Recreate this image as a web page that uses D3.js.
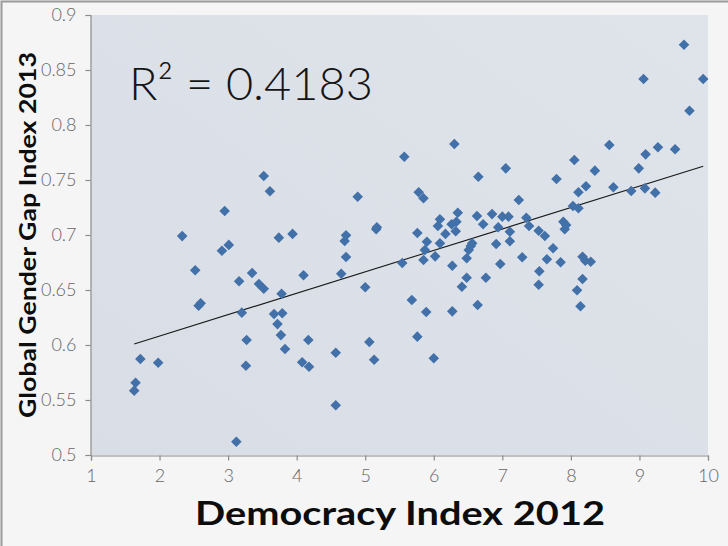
<!DOCTYPE html>
<html>
<head>
<meta charset="utf-8">
<script src="https://cdnjs.cloudflare.com/ajax/libs/d3/7.8.5/d3.min.js"></script>
<style>
	body { margin:0; background:#f5f5f5; }
	svg { display:block; }
</style>
</head>
<body>
<svg id="chart"></svg>
<script>

// democracy index 2012 (x) and global gender gap index 2013 (y), one entry per country
var democracyIndex = [
	1.63, 1.65, 1.72, 1.98, 2.33, 2.52, 2.57, 2.60, 2.91, 2.95,
	3.01, 3.12, 3.16, 3.20, 3.26, 3.27, 3.35, 3.45, 3.52, 3.52,
	3.61, 3.67, 3.72, 3.74, 3.77, 3.78, 3.79, 3.83, 3.94, 4.08,
	4.10, 4.17, 4.18, 4.57, 4.57, 4.65, 4.70, 4.72, 4.72, 4.89,
	5.00, 5.06, 5.13, 5.16, 5.17, 5.54, 5.57, 5.68, 5.76, 5.76,
	5.78, 5.85, 5.85, 5.87, 5.89, 5.90, 6.00, 6.02, 6.06, 6.09,
	6.09, 6.17, 6.26, 6.27, 6.27, 6.30, 6.32, 6.33, 6.35, 6.41,
	6.48, 6.48, 6.51, 6.54, 6.56, 6.63, 6.64, 6.65, 6.72, 6.76,
	6.85, 6.91, 6.94, 6.97, 7.00, 7.05, 7.09, 7.11, 7.11, 7.24,
	7.29, 7.35, 7.39, 7.53, 7.53, 7.54, 7.62, 7.65, 7.74, 7.79,
	7.85, 7.89, 7.91, 7.93, 8.03, 8.05, 8.09, 8.11, 8.11, 8.14,
	8.17, 8.17, 8.21, 8.22, 8.29, 8.35, 8.56, 8.62, 8.88, 8.99,
	9.06, 9.08, 9.09, 9.23, 9.27, 9.52, 9.65, 9.73, 9.93
];

var genderGap = [
	0.5585, 0.5657, 0.5873, 0.5839, 0.6990, 0.6680, 0.6357, 0.6380, 0.6857, 0.7218,
	0.6910, 0.5120, 0.6580, 0.6294, 0.5812, 0.6045, 0.6655, 0.6555, 0.6512, 0.7536,
	0.7397, 0.6282, 0.6190, 0.6976, 0.6090, 0.6466, 0.6288, 0.5964, 0.7010, 0.5843,
	0.6634, 0.6045, 0.5803, 0.5930, 0.5452, 0.6648, 0.6946, 0.6997, 0.6800, 0.7348,
	0.6525, 0.6027, 0.5866, 0.7052, 0.7070, 0.6745, 0.7712, 0.6409, 0.7018, 0.6076,
	0.7388, 0.7334, 0.6773, 0.6864, 0.6300, 0.6939, 0.5879, 0.6806, 0.7082, 0.7143,
	0.6924, 0.7010, 0.7097, 0.6721, 0.6306, 0.7827, 0.7034, 0.7121, 0.7203, 0.6530,
	0.6788, 0.6612, 0.6864, 0.6900, 0.6924, 0.7173, 0.6364, 0.7530, 0.7097, 0.6612,
	0.7190, 0.6918, 0.7070, 0.6736, 0.7167, 0.7606, 0.7167, 0.7030, 0.6943, 0.7318,
	0.6797, 0.7157, 0.7082, 0.7039, 0.6548, 0.6670, 0.6991, 0.6779, 0.6879, 0.7509,
	0.6752, 0.7121, 0.7052, 0.7090, 0.7264, 0.7682, 0.6497, 0.7243, 0.7388, 0.6352,
	0.6803, 0.6600, 0.6767, 0.7443, 0.6757, 0.7585, 0.7818, 0.7434, 0.7400, 0.7606,
	0.8418, 0.7424, 0.7733, 0.7385, 0.7797, 0.7779, 0.8730, 0.8130, 0.8418
];

var xTicks = [1, 2, 3, 4, 5, 6, 7, 8, 9, 10];
var yTicks = [0.5, 0.55, 0.6, 0.65, 0.7, 0.75, 0.8, 0.85, 0.9];
var rSquaredLabel = "R² = 0.4183";
var xTitle = "Democracy Index 2012";
var yTitle = "Global Gender Gap Index 2013";

var width = 728, height = 546;
var marginLeft = 91, marginRight = 20, marginTop = 15, marginBottom = 91;

var svg = d3.select("#chart")
	.attr("width", width)
	.attr("height", height);

//outer frame
svg.append("rect")
	.attr("x", 0)
	.attr("y", 0)
	.attr("width", width)
	.attr("height", height)
	.attr("fill", "#f5f5f5");

svg.append("path")
	.attr("d", "M1.5," + height + "V1.5H" + width)
	.attr("fill", "none")
	.attr("stroke", "#9a9a9a")
	.attr("stroke-width", 2);

//scales
var xScale = d3.scaleLinear()
	.domain([1, 10])
	.range([marginLeft, width - marginRight]);

var yScale = d3.scaleLinear()
	.domain([0.5, 0.9])
	.range([height - marginBottom, marginTop]);

//plot area background
var grad = svg.append("defs").append("linearGradient")
	.attr("id", "plotBg")
	.attr("x1", 0).attr("y1", 1)
	.attr("x2", 1).attr("y2", 0);
grad.append("stop").attr("offset", "0%").attr("stop-color", "#d9dee6");
grad.append("stop").attr("offset", "100%").attr("stop-color", "#dfe3ea");

svg.append("rect")
	.attr("x", xScale(1))
	.attr("y", yScale(0.9))
	.attr("width", xScale(10) - xScale(1))
	.attr("height", yScale(0.5) - yScale(0.9))
	.attr("fill", "url(#plotBg)");

//axes
var xAxis = d3.axisBottom(xScale)
	.tickValues(xTicks)
	.tickSize(5)
	.tickPadding(9)
	.tickFormat(d3.format("d"));

var yAxis = d3.axisLeft(yScale)
	.tickValues(yTicks)
	.tickSize(5)
	.tickPadding(9)
	.tickFormat(function(d){ return String(+d.toFixed(2)); });

var gx = svg.append("g")
	.attr("transform", "translate(0," + (yScale(0.5) + 0.5) + ")")
	.call(xAxis.tickSizeOuter(5));

var gy = svg.append("g")
	.attr("transform", "translate(" + (xScale(1) - 0.5) + ",0)")
	.call(yAxis.tickSizeOuter(5));

[gx, gy].forEach(function(g){
	g.selectAll("path, line")
		.attr("stroke", "#8c8c8c")
		.attr("stroke-width", 1.2);
	g.selectAll("text")
		.style("font", "300 18px Lato, 'Open Sans', sans-serif")
		.attr("fill", "#666666");
});

//trend line (least squares on the points)
var mx = d3.mean(democracyIndex), my = d3.mean(genderGap);
var sxy = 0, sxx = 0;
democracyIndex.forEach(function(x, i){
	sxy += (x - mx) * (genderGap[i] - my);
	sxx += (x - mx) * (x - mx);
});
var slope = sxy / sxx;
var intercept = my - slope * mx;
var xExtent = d3.extent(democracyIndex);

svg.append("line")
	.attr("x1", xScale(xExtent[0]))
	.attr("y1", yScale(intercept + slope * xExtent[0]))
	.attr("x2", xScale(xExtent[1]))
	.attr("y2", yScale(intercept + slope * xExtent[1]))
	.attr("stroke", "#1a1a1a")
	.attr("stroke-width", 1.1);

//points, excel style diamonds
var points = democracyIndex.map(function(x, i){ return {x: x, y: genderGap[i]}; });
var diamond = d3.symbol().type(d3.symbolSquare).size(56);

svg.selectAll("path.pt")
	.data(points)
	.enter()
	.append("path")
	.attr("class", "pt")
	.attr("d", diamond)
	.attr("transform", function(d){
		return "translate(" + xScale(d.x) + "," + yScale(d.y) + ") rotate(45)";
	})
	.attr("fill", "#4270a8");

//r squared label
svg.append("text")
	.attr("x", 129)
	.attr("y", 100)
	.attr("textLength", 244)
	.attr("lengthAdjust", "spacingAndGlyphs")
	.style("font", "300 46px Lato, 'Open Sans', sans-serif")
	.attr("fill", "#151515")
	.text(rSquaredLabel);

//axis titles
svg.append("text")
	.attr("x", 400)
	.attr("y", 525)
	.attr("text-anchor", "middle")
	.attr("textLength", 410)
	.attr("lengthAdjust", "spacingAndGlyphs")
	.style("font", "bold 33px Lato, 'Open Sans', sans-serif")
	.attr("fill", "#0d0d0d")
	.text(xTitle);

svg.append("text")
	.attr("transform", "translate(36,235) rotate(-90)")
	.attr("text-anchor", "middle")
	.attr("textLength", 366)
	.attr("lengthAdjust", "spacingAndGlyphs")
	.style("font", "bold 22px Lato, 'Open Sans', sans-serif")
	.attr("fill", "#0d0d0d")
	.text(yTitle);

</script>
</body>
</html>
